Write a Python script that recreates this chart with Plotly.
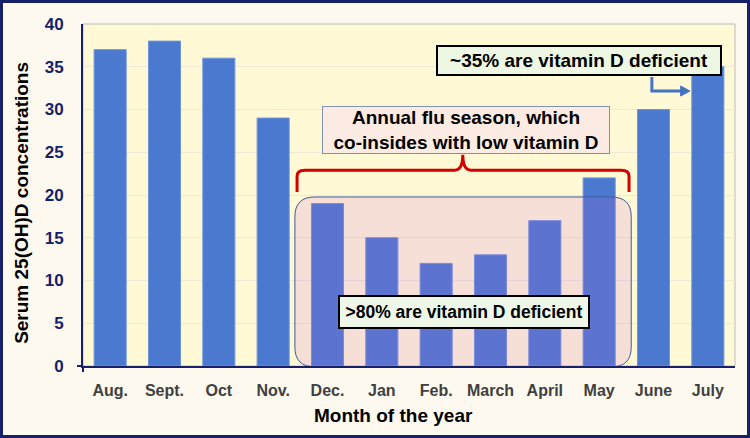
import plotly.graph_objects as go

months = ["Aug.", "Sept.", "Oct", "Nov.", "Dec.", "Jan", "Feb.", "March", "April", "May", "June", "July"]
serum_25ohd = [37, 38, 36, 29, 19, 15, 12, 13, 17, 22, 30, 35]
y_ticks = [0, 5, 10, 15, 20, 25, 30, 35, 40]

x_pos = list(range(len(months)))

W, H = 750, 438
ML, MR, MT, MB = 83, 15, 24, 72
PW, PH = W - ML - MR, H - MT - MB

FONT = "Arial, Liberation Sans, sans-serif"
NAVY = "#16216A"

fig = go.Figure()
fig.add_trace(go.Bar(
    x=x_pos, y=serum_25ohd,
    marker=dict(color="#4A79CF", line=dict(color="#6F94DA", width=1)),
    width=0.59, showlegend=False, hoverinfo="x+y",
))

# curly bracket (flu season)
xl, xr, xc = 3.44, 9.55, 6.49
yb, yt, yp = 20.35, 22.9, 24.7
bracket = (f"M {xl},{yb} L {xl},{yt-0.7} Q {xl},{yt} {xl+0.15},{yt} "
           f"L {xc-0.15},{yt} Q {xc},{yt} {xc},{yp} "
           f"Q {xc},{yt} {xc+0.15},{yt} L {xr-0.15},{yt} "
           f"Q {xr},{yt} {xr},{yt-0.7} L {xr},{yb}")

# rounded rectangle (deficiency region)
rx0, rx1, ry0, ry1 = 3.40, 9.59, -0.1, 19.77
cx, cy = 0.37, 2.3
rbox = (f"M {rx0+cx},{ry0} L {rx1-cx},{ry0} Q {rx1},{ry0} {rx1},{ry0+cy} "
        f"L {rx1},{ry1-cy} Q {rx1},{ry1} {rx1-cx},{ry1} "
        f"L {rx0+cx},{ry1} Q {rx0},{ry1} {rx0},{ry1-cy} "
        f"L {rx0},{ry0+cy} Q {rx0},{ry0} {rx0+cx},{ry0} Z")

shapes = [
    # thin grey plot frame (top/right)
    dict(type="rect", xref="paper", yref="paper", x0=0, x1=1, y0=0, y1=1, layer="below",
         line=dict(color="#B9B9C4", width=1)),
    dict(type="path", path=rbox, xref="x", yref="y", layer="above",
         fillcolor="rgba(190,90,220,0.16)", line=dict(color="#3D5A9C", width=1)),
    dict(type="path", path=bracket, xref="x", yref="y", layer="above",
         line=dict(color="#D40000", width=3)),
    # elbow arrow
    dict(type="path", path="M 9.97,33.8 L 9.97,32.16 L 10.52,32.16", xref="x", yref="y",
         layer="above", line=dict(color="#4472C4", width=3)),
    dict(type="path", path="M 10.50,32.75 L 10.67,32.16 L 10.50,31.57 Z", xref="x", yref="y",
         layer="above", fillcolor="#4472C4", line=dict(color="#4472C4", width=1)),
    # corner cross at origin
    dict(type="line", xref="paper", yref="paper", x0=-6/PW, x1=0, y0=0, y1=0,
         line=dict(color=NAVY, width=2)),
    dict(type="line", xref="paper", yref="paper", x0=0, x1=0, y0=-6/PH, y1=0,
         line=dict(color=NAVY, width=2)),
    # outer frame
    dict(type="rect", xref="paper", yref="paper", layer="above",
         x0=(-ML + 1.5) / PW, x1=1 + (MR - 1.5) / PW,
         y0=(-MB + 1.5) / PH, y1=1 + (MT - 1.5) / PH,
         line=dict(color=NAVY, width=3)),
]

annotations = [
    dict(x=6.55, y=27.66, xref="x", yref="y",
         text="Annual flu season, which<br>co-insides with low vitamin D",
         showarrow=False, font=dict(family=FONT, size=19, color="black", weight="bold"),
         bgcolor="#FCEBE2", bordercolor="#8291AC", borderwidth=1, borderpad=2,
         width=282, height=42),
    dict(x=8.63, y=35.79, xref="x", yref="y",
         text="~35% are vitamin D deficient",
         showarrow=False, font=dict(family=FONT, size=19, color="black", weight="bold"),
         bgcolor="#EEF7E4", bordercolor="black", borderwidth=2, borderpad=1,
         width=280, height=25),
    dict(x=6.52, y=6.37, xref="x", yref="y",
         text=">80% are vitamin D deficient",
         showarrow=False, font=dict(family=FONT, size=17.5, color="black", weight="bold"),
         bgcolor="#EFF8E8", bordercolor="black", borderwidth=2, borderpad=1,
         width=246, height=28),
    dict(x=(393 - ML) / PW, y=(MT + PH - 415) / PH,
         xref="paper", yref="paper", text="Month of the year", showarrow=False,
         font=dict(family=FONT, size=19, color="black", weight="bold"),
         xanchor="center", yanchor="middle"),
    dict(x=(22 - ML) / PW, y=0.477, xref="paper", yref="paper",
         text="Serum 25(OH)D concentrations", showarrow=False, textangle=-90,
         font=dict(family=FONT, size=19, color="black", weight="bold"),
         xanchor="center", yanchor="middle"),
]

fig.update_layout(
    width=W, height=H,
    margin=dict(l=ML, r=MR, t=MT, b=MB, pad=0),
    paper_bgcolor="#FDF9EE", plot_bgcolor="#FFF9D6",
    shapes=shapes, annotations=annotations,
    bargap=0.41,
    xaxis=dict(range=[-0.5, 11.5], tickmode="array", tickvals=x_pos, ticktext=months,
               showgrid=False, showline=True, linecolor=NAVY, linewidth=2,
               ticks="", ticklabelstandoff=9, zeroline=False,
               tickfont=dict(family=FONT, size=16, color="#404040", weight="bold")),
    yaxis=dict(range=[0, 40], tickmode="array", tickvals=y_ticks,
               showgrid=True, gridcolor="#EFEAD8", gridwidth=1,
               showline=True, linecolor=NAVY, linewidth=2, zeroline=False,
               ticks="", ticklabelstandoff=14,
               tickfont=dict(family=FONT, size=17, color=NAVY, weight="bold")),
)

fig.write_html("out.html", config={"displayModeBar": False},
               post_script="document.body.style.margin='0';document.body.style.overflow='hidden';")
